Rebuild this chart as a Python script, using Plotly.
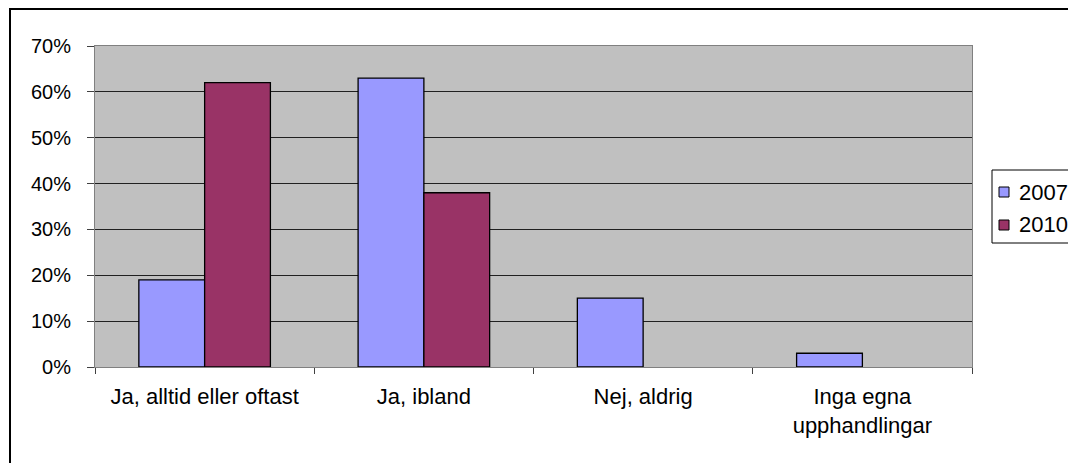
import plotly.graph_objects as go

categories = ["Ja, alltid eller oftast", "Ja, ibland", "Nej, aldrig", "Inga egna<br>upphandlingar"]
series_names = ["2007", "2010"]
values_2007 = [0.19, 0.63, 0.15, 0.03]
values_2010 = [0.62, 0.38, None, None]
colors = ["#9999FF", "#993366"]
y_ticks = [0, 0.1, 0.2, 0.3, 0.4, 0.5, 0.6, 0.7]
y_tick_labels = ["0%", "10%", "20%", "30%", "40%", "50%", "60%", "70%"]

font = "Liberation Sans, Arial, sans-serif"

fig = go.Figure()
for name, vals, col in zip(series_names, [values_2007, values_2010], colors):
    fig.add_trace(go.Bar(
        x=categories, y=vals, name=name,
        marker=dict(color=col, line=dict(color="black", width=1.3)),
    ))

L, R, T, B = 95, 96, 46, 96
W, H = 1068, 463
pw, ph = W - L - R, H - T - B


def px(x):
    return (x - L) / pw


def py(y):
    return (H - B - y) / ph


shapes = [dict(
    type="rect", xref="paper", yref="paper",
    x0=px(10), x1=1.3, y0=-0.5, y1=py(9),
    line=dict(color="black", width=2), fillcolor="rgba(0,0,0,0)", layer="below",
)]
# legend box
shapes.append(dict(type="rect", xref="paper", yref="paper",
                   x0=px(992), x1=px(1100), y0=py(243), y1=py(170),
                   line=dict(color="black", width=1), fillcolor="white"))
annotations = []
for i, (name, col) in enumerate(zip(series_names, colors)):
    cy = 192 + i * 33
    shapes.append(dict(type="rect", xref="paper", yref="paper",
                       x0=px(999), x1=px(1009), y0=py(cy + 5), y1=py(cy - 5),
                       line=dict(color="black", width=1), fillcolor=col))
    annotations.append(dict(xref="paper", yref="paper", x=px(1017), y=py(cy),
                            xanchor="left", yanchor="middle", showarrow=False,
                            text=name, font=dict(family=font, size=22, color="black")))

fig.update_layout(
    width=W, height=H,
    autosize=False,
    margin=dict(l=L, r=R, t=T, b=B, pad=0),
    paper_bgcolor="white",
    plot_bgcolor="#C0C0C0",
    barmode="group",
    bargap=0.40,
    bargroupgap=0,
    font=dict(family=font, size=20, color="black"),
    showlegend=False,
    xaxis=dict(
        tickson="boundaries", ticks="outside", ticklen=6, tickcolor="#404040",
        showline=True, linecolor="#808080", linewidth=1, mirror=True,
        showgrid=False, tickfont=dict(size=22), ticklabelstandoff=10,
    ),
    yaxis=dict(
        range=[0, 0.7], tickvals=y_ticks, ticktext=y_tick_labels,
        ticks="outside", ticklen=7, tickcolor="#404040",
        showline=True, linecolor="#808080", linewidth=1, mirror=True,
        showgrid=True, gridcolor="#202020", gridwidth=1,
        zeroline=False, tickfont=dict(size=20), ticklabelstandoff=12,
    ),
    shapes=shapes,
    annotations=annotations,
)

fig.write_html(
    "out.html",
    config={"responsive": False, "displayModeBar": False},
    post_script="document.body.style.margin='0';document.body.style.overflow='hidden';",
)
